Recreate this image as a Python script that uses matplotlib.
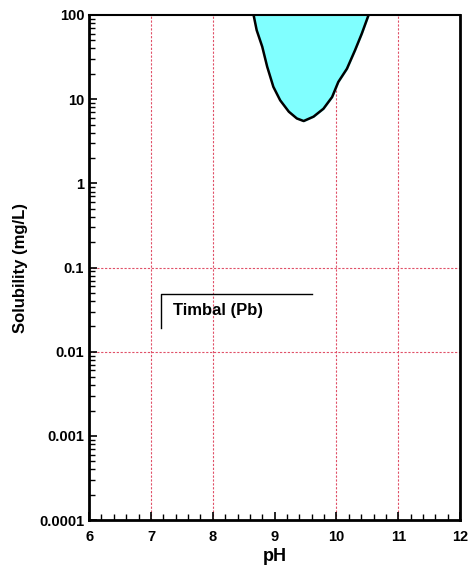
import numpy as np
import matplotlib
matplotlib.use("Agg")
import matplotlib.pyplot as plt
from matplotlib.ticker import FixedLocator, FuncFormatter, MultipleLocator, LogLocator

# Solubility curve
ph = [8.66, 8.71, 8.80, 8.88, 8.98, 9.09, 9.23, 9.36, 9.47, 9.63, 9.79, 9.93,
      10.03, 10.17, 10.30, 10.41, 10.52]
solubility = [100, 66, 42, 24.3, 14, 9.7, 7.1, 5.9, 5.5, 6.2, 7.7, 10.6,
              16, 23, 38, 60, 100]

grid_x = [7, 8, 10, 11]
grid_y = [0.1, 0.01]
y_ticks = [0.0001, 0.001, 0.01, 0.1, 1, 10, 100]
y_labels = ["0.0001", "0.001", "0.01", "0.1", "1", "10", "100"]

plt.rcParams['font.family'] = ['Liberation Sans', 'DejaVu Sans']
plt.rcParams['font.weight'] = 'bold'

fig = plt.figure(figsize=(4.69, 5.76), dpi=100)
ax = fig.add_axes([0.19, 0.097, 0.791, 0.877])

ax.set_yscale('log')
ax.set_xlim(6, 12)
ax.set_ylim(0.0001, 100)

# filled region
ax.fill_between(ph, solubility, 1000, color='#80FFFF', zorder=2)
ax.plot(ph, solubility, color='black', lw=1.8, zorder=3, solid_joinstyle='round')

# grid
for gx in grid_x:
    ax.axvline(gx, color='#E05068', lw=0.8, ls=(0, (2, 1.5)), zorder=1)
for gy in grid_y:
    ax.axhline(gy, color='#E05068', lw=0.8, ls=(0, (2, 1.5)), zorder=1)

# label bracket
ax.plot([7.17, 7.17, 9.61], [0.019, 0.049, 0.049], color='black', lw=1, zorder=3)
ax.text(7.35, 0.031, "Timbal (Pb)", fontsize=12, fontweight='bold', va='center', ha='left')

ax.yaxis.set_major_locator(FixedLocator(y_ticks))
ax.yaxis.set_major_formatter(FuncFormatter(lambda v, p: y_labels[y_ticks.index(min(y_ticks, key=lambda t: abs(np.log10(t) - np.log10(v))))]))
ax.yaxis.set_minor_locator(LogLocator(base=10, subs=np.arange(2, 10)))
ax.yaxis.set_minor_formatter(FuncFormatter(lambda v, p: ""))
ax.xaxis.set_major_locator(MultipleLocator(1))
ax.xaxis.set_minor_locator(MultipleLocator(0.2))

ax.tick_params(axis='both', which='both', direction='in', labelsize=10.5)
ax.tick_params(axis='both', which='major', length=6, width=1.2)
ax.tick_params(axis='both', which='minor', length=4, width=1)
ax.tick_params(axis='x', which='major', pad=7)
ax.tick_params(top=False, right=False, which='both')

for s in ['left', 'bottom', 'right']:
    ax.spines[s].set_linewidth(2)
ax.spines['top'].set_linewidth(1.5)

ax.set_xlabel("pH", fontsize=13, fontweight='bold', labelpad=3)
ax.set_ylabel("Solubility (mg/L)", fontsize=12, fontweight='bold', labelpad=8)

fig.savefig("out.png", dpi=100)
